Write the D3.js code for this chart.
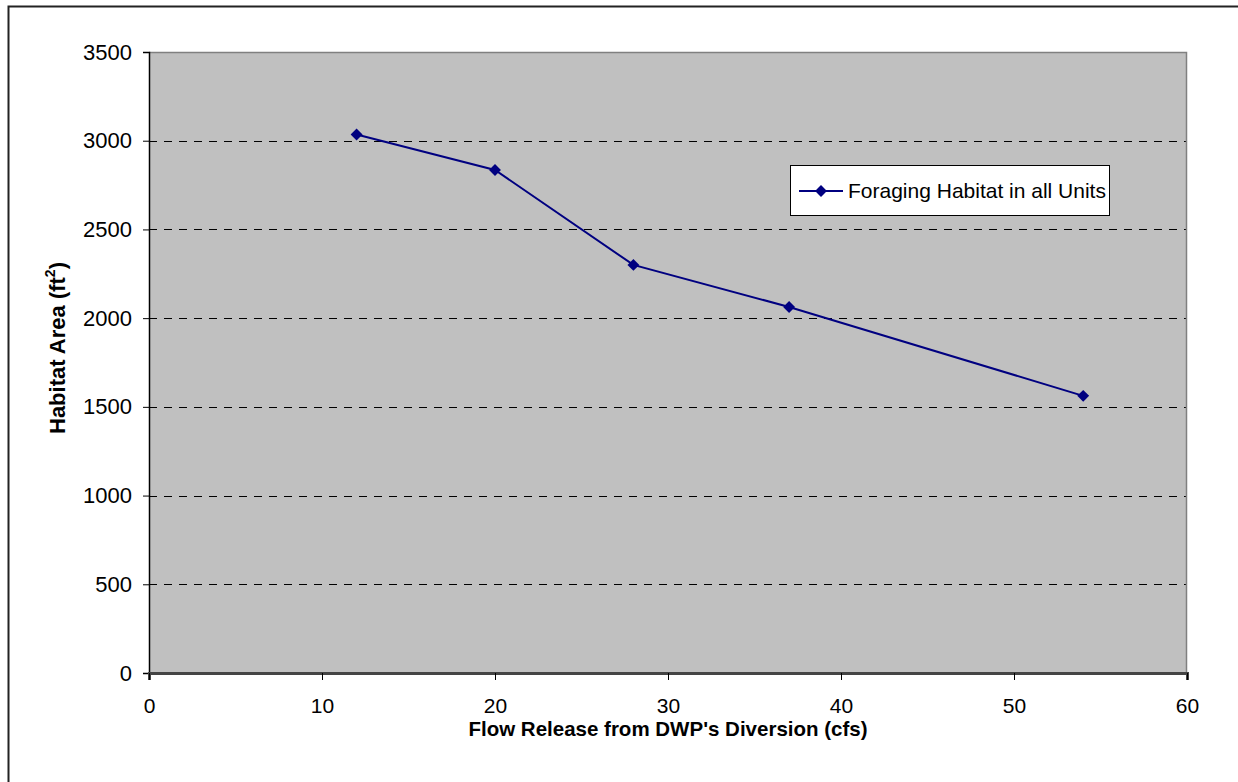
<!DOCTYPE html>
<html><head><meta charset="utf-8">
<script src="https://cdn.jsdelivr.net/npm/d3@7"></script>
<style>body{margin:0;background:#fff}text{font-family:"Liberation Sans",Arial,sans-serif}</style>
</head><body>
<svg id="c" width="1238" height="782"></svg>
<script>
const flows = [12, 20, 28, 37, 54];
const habitat = [3035, 2835, 2300, 2063, 1562];
const xTicks = [0, 10, 20, 30, 40, 50, 60];
const yTicks = [0, 500, 1000, 1500, 2000, 2500, 3000, 3500];
const seriesName = "Foraging Habitat in all Units";
const xTitle = "Flow Release from DWP's Diversion (cfs)";

const svg = d3.select("#c");
const L = 149, R = 1187, T = 52, B = 673;
const x = d3.scaleLinear().domain([0, 60]).range([L, R]);
const y = d3.scaleLinear().domain([0, 3500]).range([B, T]);

// outer frame
svg.append("path").attr("d", `M8.5,790 V6.5 H1250`).attr("fill","none").attr("stroke","#222").attr("stroke-width",2);

svg.append("rect").attr("x", L).attr("y", T).attr("width", R - L).attr("height", B - T).attr("fill", "#c0c0c0");

// gridlines
svg.append("g").selectAll("line").data(yTicks.filter(v => v > 0 && v < 3500)).join("line")
  .attr("x1", L).attr("x2", R).attr("y1", d => Math.round(y(d)) + 0.5).attr("y2", d => Math.round(y(d)) + 0.5)
  .attr("stroke", "#000").attr("stroke-width", 1).attr("stroke-dasharray", "8,7");

// plot border top/right
svg.append("path").attr("d", `M${L},${T + 0.5} H${R - 0.5} V${B}`).attr("fill", "none").attr("stroke", "#808080").attr("stroke-width", 1.5);

// axes
const yAxis = d3.axisLeft(y).tickValues(yTicks).tickSize(6).tickPadding(11).tickFormat(d3.format("d"));
const gy = svg.append("g").attr("transform", `translate(${L},0)`).call(yAxis);
const xAxis = d3.axisBottom(x).tickValues(xTicks).tickSize(7).tickPadding(18).tickFormat(d3.format("d"));
const gx = svg.append("g").attr("transform", `translate(0,${B})`).call(xAxis);
[gx, gy].forEach(g => {
  g.attr("font-size", null).attr("font-family", null);
  g.select(".domain").attr("stroke", "#000").attr("stroke-width", 1.5);
  g.selectAll(".tick line").attr("stroke", "#000");
  g.selectAll("text").style("font-size", "21px").attr("fill", "#000");
});
gy.selectAll("text").style("font-size", "22px");
gx.select(".domain").attr("stroke", "#444").attr("stroke-width", 3);

// line
const pts = flows.map((f, i) => [f, habitat[i]]);
svg.append("path").datum(pts).attr("fill", "none").attr("stroke", "#000080").attr("stroke-width", 2)
  .attr("d", d3.line().x(d => x(d[0])).y(d => y(d[1])));
const diamond = d3.symbol().type(d3.symbolDiamond2).size(90);
svg.append("g").selectAll("path").data(pts).join("path")
  .attr("transform", d => `translate(${x(d[0])},${y(d[1])})`).attr("d", diamond).attr("fill", "#000080");

// legend
const lg = svg.append("g");
lg.append("rect").attr("x", 790.5).attr("y", 165.5).attr("width", 319).attr("height", 50).attr("fill", "#fff").attr("stroke", "#000");
lg.append("line").attr("x1", 799).attr("x2", 843).attr("y1", 191).attr("y2", 191).attr("stroke", "#000080").attr("stroke-width", 2);
lg.append("path").attr("transform", "translate(821,191)").attr("d", diamond).attr("fill", "#000080");
lg.append("text").attr("x", 848).attr("y", 198).style("font-size", "21px").text(seriesName);

// titles
svg.append("text").attr("x", (L + R) / 2).attr("y", 736).attr("text-anchor", "middle").style("font-size", "20.5px").attr("font-weight", "bold").text(xTitle);
const yt = svg.append("text").attr("transform", `translate(65,348) rotate(-90)`).attr("text-anchor", "middle").style("font-size", "22px").attr("font-weight", "bold");
yt.append("tspan").text("Habitat Area (ft");
yt.append("tspan").style("font-size", "14px").attr("dy", -10).text("2");
yt.append("tspan").attr("dy", 10).text(")");
</script>
</body></html>
